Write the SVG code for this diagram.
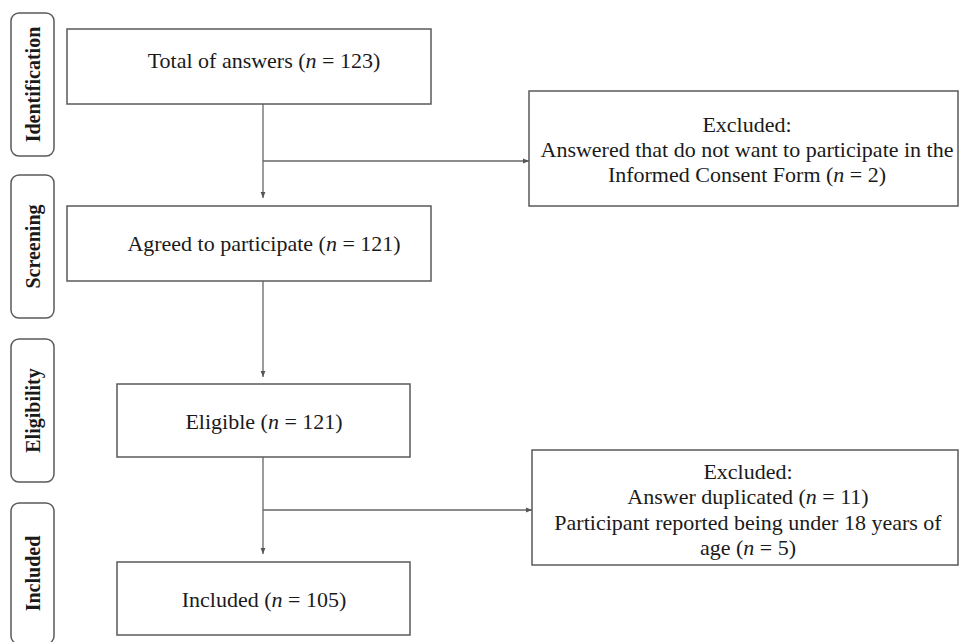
<svg xmlns="http://www.w3.org/2000/svg" width="960" height="642" viewBox="0 0 960 642">
<style>
.box{fill:#fff;stroke:#5a5a5a;stroke-width:1.5}
.stage{fill:#fff;stroke:#5a5a5a;stroke-width:1.5}
.t{font-family:"Liberation Serif","Times New Roman",serif;font-size:22px;fill:#1a1a1a;text-anchor:middle}
.s{font-family:"Liberation Serif","Times New Roman",serif;font-size:20px;font-weight:bold;fill:#1a1a1a;text-anchor:middle}
.c{fill:none;stroke:#666;stroke-width:1.3}
</style>
<defs>
<marker id="ah" viewBox="0 0 10 10" refX="10" refY="5" markerWidth="6" markerHeight="6" markerUnits="userSpaceOnUse" orient="auto">
<path d="M0,1 L10,5 L0,9 z" fill="#555"/>
</marker>
</defs>
<rect width="960" height="642" fill="#fff"/>
<g id="stage-identification"><rect class="stage" x="11" y="13" width="43" height="143" rx="8"/><text class="s" transform="translate(40,84.5) rotate(-90)">Identification</text></g>
<g id="stage-screening"><rect class="stage" x="11" y="175" width="43" height="143" rx="8"/><text class="s" transform="translate(40,246.5) rotate(-90)">Screening</text></g>
<g id="stage-eligibility"><rect class="stage" x="11" y="339" width="43" height="143" rx="8"/><text class="s" transform="translate(40,410.5) rotate(-90)">Eligibility</text></g>
<g id="stage-included"><rect class="stage" x="11" y="503" width="43" height="141" rx="8"/><text class="s" transform="translate(40,573.5) rotate(-90)">Included</text></g>
<g id="connectors">
<line class="c" x1="263" y1="104" x2="263" y2="198" marker-end="url(#ah)"/>
<line class="c" x1="263" y1="161" x2="529" y2="161" marker-end="url(#ah)"/>
<line class="c" x1="263" y1="281" x2="263" y2="377" marker-end="url(#ah)"/>
<line class="c" x1="263" y1="457" x2="263" y2="554" marker-end="url(#ah)"/>
<line class="c" x1="263" y1="510" x2="532" y2="510" marker-end="url(#ah)"/>
</g>
<g id="total"><rect class="box" x="67" y="29" width="364" height="75"/><text class="t" x="264" y="68">Total of answers (<tspan font-style="italic">n</tspan> = 123)</text></g>
<g id="agreed"><rect class="box" x="67" y="206" width="364" height="75"/><text class="t" x="264" y="251">Agreed to participate (<tspan font-style="italic">n</tspan> = 121)</text></g>
<g id="eligible"><rect class="box" x="117" y="384" width="293" height="73"/><text class="t" x="264" y="429">Eligible (<tspan font-style="italic">n</tspan> = 121)</text></g>
<g id="included"><rect class="box" x="117" y="562" width="293" height="73"/><text class="t" x="264" y="607">Included (<tspan font-style="italic">n</tspan> = 105)</text></g>
<g id="excluded1"><rect class="box" x="529" y="91" width="429" height="115"/>
<text class="t" x="747" y="132">Excluded:</text>
<text class="t" x="747" y="157">Answered that do not want to participate in the</text>
<text class="t" x="747" y="182">Informed Consent Form (<tspan font-style="italic">n</tspan> = 2)</text></g>
<g id="excluded2"><rect class="box" x="532" y="450" width="426" height="115"/>
<text class="t" x="748" y="479">Excluded:</text>
<text class="t" x="748" y="504">Answer duplicated (<tspan font-style="italic">n</tspan> = 11)</text>
<text class="t" x="748" y="530">Participant reported being under 18 years of</text>
<text class="t" x="748" y="555">age (<tspan font-style="italic">n</tspan> = 5)</text></g>
</svg>
